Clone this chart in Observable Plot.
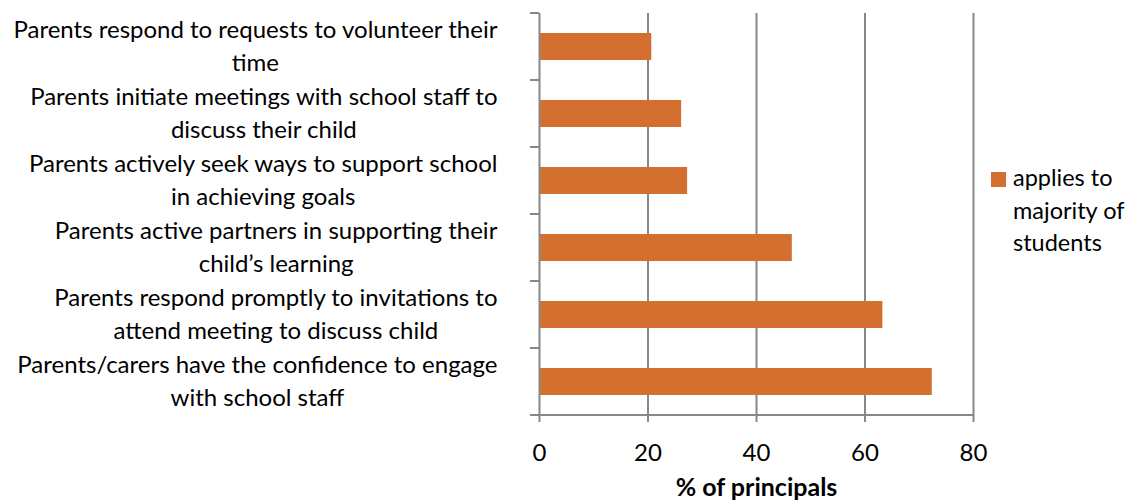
<!DOCTYPE html>
<html><head><meta charset="utf-8">
<script src="https://cdn.jsdelivr.net/npm/d3@7"></script>
<script src="https://cdn.jsdelivr.net/npm/@observablehq/plot@0.6"></script>
<style>
body{margin:0;background:#fff;}
#wrap{position:relative;width:1138px;height:502px;font-family:Lato,sans-serif;}
#legend{position:absolute;left:991px;top:161px;font-size:23.5px;line-height:32.5px;color:#000;}
#legend .sw{position:absolute;left:0;top:11px;width:15px;height:15px;}
#legend .lab{position:absolute;left:22px;top:0;white-space:pre;}
</style></head><body><div id="wrap"></div>
<script>
const categories = [
  "Parents respond to requests to volunteer their\ntime",
  "Parents initiate meetings with school staff to\ndiscuss their child",
  "Parents actively seek ways to support school\nin achieving goals",
  "Parents active partners in supporting their\nchild\u2019s learning",
  "Parents respond promptly to invitations to\nattend meeting to discuss child",
  "Parents/carers have the confidence to engage\nwith school staff"
];
const values = [20.7, 26.2, 27.3, 46.6, 63.3, 72.4];
const xTicks = [0, 20, 40, 60, 80];
const seriesName = "applies to\nmajority of\nstudents";
const xLabel = "% of principals";
const barColor = "#d4702f";
const gridColor = "#878787";

const data = categories.map((c, i) => ({category: c, value: values[i]}));

const plot = Plot.plot({
  width: 1138, height: 502,
  marginTop: 13, marginBottom: 87, marginLeft: 539, marginRight: 165,
  style: {fontFamily: "Lato, sans-serif", fontSize: "24px", color: "#000", background: "#fff", overflow: "visible"},
  x: {domain: [0, 80], ticks: xTicks},
  y: {domain: categories, paddingInner: 0.6, paddingOuter: 0.3},
  marks: [
    Plot.gridX(xTicks.filter(d => d > 0), {stroke: gridColor, strokeOpacity: 1, strokeWidth: 2}),
    Plot.barX(data, {x: "value", y: "category", fill: barColor}),
    Plot.ruleX([0], {stroke: gridColor, strokeWidth: 2}),
    Plot.axisX({ticks: xTicks, tickSize: 7, tickPadding: 21, label: null, stroke: gridColor, strokeWidth: 2, fill: "#000", fontSize: 24}),
    Plot.axisY({tickSize: 0, tickPadding: 42, label: null, lineHeight: 1.375, fill: "#000", fontSize: 24, dy: -3, tickFormat: d => d}),
    Plot.text([xLabel], {frameAnchor: "bottom", dy: 80, fontWeight: "bold", fontSize: 25, fill: "#000"})
  ]
});

const wrap = document.getElementById("wrap");
wrap.appendChild(plot);

// y-axis: ticks at category boundaries + bottom axis line
const sx = plot.scale("x"), sy = plot.scale("y");
const svg = d3.select(plot);
const gap = sy.step - sy.bandwidth;
const x0 = sx.apply(0), x1 = sx.apply(80);
const bounds = categories.map(c => sy.apply(c) - gap / 2);
bounds.push(bounds[bounds.length - 1] + sy.step);
const g = svg.append("g").attr("stroke", gridColor).attr("stroke-width", 2);
bounds.forEach(b => g.append("line").attr("x1", x0 - 9).attr("x2", x0).attr("y1", b).attr("y2", b));
g.append("line").attr("x1", x0 - 9).attr("x2", x1 + 1).attr("y1", bounds[bounds.length - 1]).attr("y2", bounds[bounds.length - 1]);

// center multi-line y labels like the original
svg.selectAll('g[aria-label="y-axis tick label"] text').each(function() {
  const w = this.getBBox().width;
  d3.select(this).attr("text-anchor", "middle");
  d3.select(this).selectAll("tspan").attr("x", -w / 2);
});

// legend
const leg = document.createElement("div");
leg.id = "legend";
leg.innerHTML = `<div class="sw" style="background:${barColor}"></div><div class="lab"></div>`;
leg.querySelector(".lab").textContent = seriesName;
wrap.appendChild(leg);
</script>
</body></html>
